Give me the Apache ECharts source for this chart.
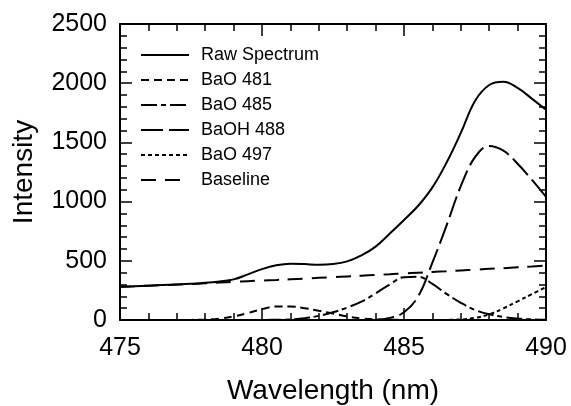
<!DOCTYPE html>
<html>
<head>
<meta charset="utf-8">
<script src="https://cdn.jsdelivr.net/npm/echarts@6/dist/echarts.min.js"></script>
<style>
html,body{margin:0;padding:0;background:#fff;}
#chart{width:571px;height:406px;}
</style>
</head>
<body>
<div id="chart"></div>
<script>
var wavelength = [475,475.5,476,476.5,477,477.5,478,478.5,479,479.5,480,480.5,481,481.5,482,482.5,483,483.5,484,484.5,485,485.5,486,486.5,487,487.5,488,488.5,489,489.5,490];
var rawSpectrum = [281,285,290,295,300,306,314,326,343,385,430,462,475,472,466,472,495,545,620,730,845,965,1120,1330,1580,1850,1985,2012,1960,1870,1775];
var bao481 = [0,0,0,0,0,1,3,12,30,58,92,114,115,100,78,55,30,14,6,2,1,0,0,0,0,0,0,0,0,0,0];
var bao485 = [0,0,0,0,0,0,0,0,0,0,0,2,5,15,35,65,105,155,225,300,362,365,305,220,145,85,48,25,12,5,2];
var baoh488 = [0,0,0,0,0,0,0,0,0,0,0,0,0,0,0,0,0,0,2,18,65,200,485,800,1130,1375,1470,1430,1320,1185,1040];
var bao497 = [0,0,0,0,0,0,0,0,0,0,0,0,0,0,0,0,0,0,0,0,0,0,0,1,5,18,48,98,158,218,278];
var baseline = [281,285,290,294,299,304,310,316,322,328,333,338,344,350,356,362,368,374,381,387,394,400,406,412,419,425,432,438,445,452,460];
var seriesNames = ['Raw Spectrum','BaO 481','BaO 485','BaOH 488','BaO 497','Baseline'];
var seriesValues = [rawSpectrum, bao481, bao485, baoh488, bao497, baseline];
var dashes = ['solid', [8,5], [16,4,5,4], [22,6], [4,3], [15,9]];

function pairs(ys){ return wavelength.map(function(x,i){ return [x, ys[i]]; }); }

var FONT = 'Liberation Sans, Arial, sans-serif';
function xAx(pos, labels){
  return {
    type:'value', position:pos, min:475, max:490, interval:5,
    name: labels ? 'Wavelength (nm)' : '', nameLocation:'middle', nameGap:57,
    nameTextStyle:{fontFamily:FONT,fontSize:28,color:'#000'},
    axisLine:{show:true,onZero:false,lineStyle:{color:'#000',width:2}},
    axisTick:{show:true,inside:true,length:12,lineStyle:{color:'#000',width:1.5}},
    minorTick:{show:true,splitNumber:5,length:7,lineStyle:{color:'#000',width:1.5}},
    axisLabel:{show:labels,margin:16,fontFamily:FONT,fontSize:25,color:'#000'},
    splitLine:{show:false}
  };
}
function yAx(pos, labels){
  return {
    type:'value', position:pos, min:0, max:2500, interval:500,
    name: labels ? 'Intensity' : '', nameLocation:'middle', nameGap:82, nameRotate:90,
    nameTextStyle:{fontFamily:FONT,fontSize:28,color:'#000'},
    axisLine:{show:true,onZero:false,lineStyle:{color:'#000',width:2}},
    axisTick:{show:true,inside:true,length:12,lineStyle:{color:'#000',width:1.5}},
    minorTick:{show:true,splitNumber:5,length:7,lineStyle:{color:'#000',width:1.5}},
    axisLabel:{show:labels,margin:13,fontFamily:FONT,fontSize:25,color:'#000',
      formatter:function(v){ return String(v); }},
    splitLine:{show:false}
  };
}

var chart = echarts.init(document.getElementById('chart'), null, {renderer:'canvas'});
chart.setOption({
  animation:false,
  backgroundColor:'#fff',
  grid:{left:120,right:25,top:24,bottom:86,containLabel:false,outerBoundsMode:'none'},
  xAxis:[xAx('bottom',true), xAx('top',false)],
  yAxis:[yAx('left',true), yAx('right',false)],
  legend:{
    orient:'vertical', left:135, top:41,
    itemWidth:48, itemHeight:14, itemGap:7,
    data:seriesNames,
    itemStyle:{color:'rgba(0,0,0,0)',borderColor:'rgba(0,0,0,0)',borderWidth:0},
    textStyle:{fontFamily:FONT,fontSize:18,color:'#000',lineHeight:18,padding:[0,0,0,7]}
  },
  series: seriesNames.map(function(n,i){
    return {
      name:n, type:'line', xAxisIndex:0, yAxisIndex:0,
      data:pairs(seriesValues[i]), smooth:0.4, symbol:'none',
      lineStyle:{color:'#000',width:2,type:dashes[i]},
      itemStyle:{color:'#000'},
      z: i===0 ? 3 : 2
    };
  })
});
</script>
</body>
</html>
